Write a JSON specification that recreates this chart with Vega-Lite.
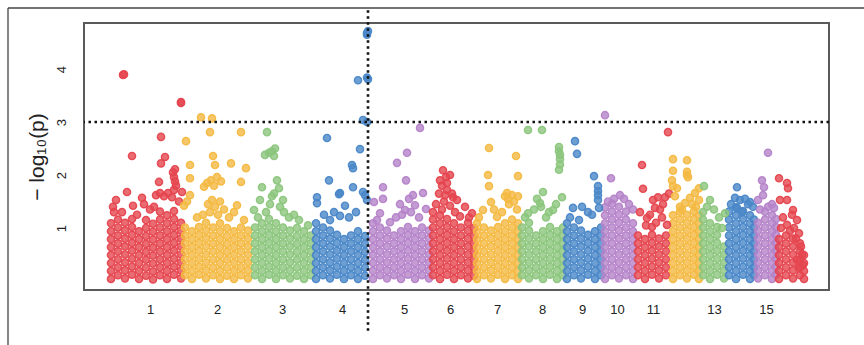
{
"$schema":"https://vega.github.io/schema/vega-lite/v6.json",
"width":745,"height":267,
"autosize":{"type":"none"},
"padding":{"left":84,"top":23,"right":35,"bottom":55},
"config":{"view":{"stroke":"#5a5a5a","strokeWidth":2},"font":"Liberation Sans"},
"datasets":{"snps":[
{"x":27,"y":0.04},{"x":27,"y":0.19},{"x":27,"y":0.34},{"x":27,"y":0.49},{"x":27,"y":0.64},{"x":27,"y":0.79},{"x":27,"y":0.94},{"x":27,"y":1.09},
{"x":34,"y":0.11},{"x":34,"y":0.26},{"x":34,"y":0.41},{"x":34,"y":0.56},{"x":34,"y":0.71},{"x":34,"y":0.86},{"x":34,"y":1.01},{"x":34,"y":1.16},
{"x":41,"y":0.05},{"x":41,"y":0.2},{"x":41,"y":0.35},{"x":41,"y":0.5},{"x":41,"y":0.65},{"x":41,"y":0.8},{"x":41,"y":0.95},{"x":41,"y":1.1},
{"x":48,"y":0.12},{"x":48,"y":0.27},{"x":48,"y":0.42},{"x":48,"y":0.57},{"x":48,"y":0.72},{"x":48,"y":0.87},{"x":48,"y":1.02},{"x":48,"y":1.17},
{"x":55,"y":0.04},{"x":55,"y":0.19},{"x":55,"y":0.34},{"x":55,"y":0.49},{"x":55,"y":0.64},{"x":55,"y":0.79},{"x":55,"y":0.94},
{"x":62,"y":0.1},{"x":62,"y":0.25},{"x":62,"y":0.4},{"x":62,"y":0.55},{"x":62,"y":0.7},{"x":62,"y":0.85},{"x":62,"y":1.0},{"x":62,"y":1.15},
{"x":69,"y":0.03},{"x":69,"y":0.18},{"x":69,"y":0.33},{"x":69,"y":0.48},{"x":69,"y":0.63},{"x":69,"y":0.78},{"x":69,"y":0.93},{"x":69,"y":1.08},
{"x":76,"y":0.11},{"x":76,"y":0.26},{"x":76,"y":0.41},{"x":76,"y":0.56},{"x":76,"y":0.71},{"x":76,"y":0.86},{"x":76,"y":1.01},{"x":76,"y":1.16},{"x":76,"y":1.31},
{"x":83,"y":0.04},{"x":83,"y":0.19},{"x":83,"y":0.34},{"x":83,"y":0.49},{"x":83,"y":0.64},{"x":83,"y":0.79},{"x":83,"y":0.94},{"x":83,"y":1.09},{"x":83,"y":1.24},
{"x":90,"y":0.12},{"x":90,"y":0.27},{"x":90,"y":0.42},{"x":90,"y":0.57},{"x":90,"y":0.72},{"x":90,"y":0.87},{"x":90,"y":1.02},{"x":90,"y":1.17},{"x":90,"y":1.32},
{"x":97,"y":0.05},{"x":97,"y":0.2},{"x":97,"y":0.35},{"x":97,"y":0.5},{"x":97,"y":0.65},{"x":97,"y":0.8},{"x":97,"y":0.95},{"x":97,"y":1.1},
{"x":101,"y":0.11},{"x":101,"y":0.26},{"x":101,"y":0.41},{"x":101,"y":0.56},{"x":101,"y":0.71},{"x":101,"y":0.86},{"x":101,"y":1.01},
{"x":108,"y":0.04},{"x":108,"y":0.19},{"x":108,"y":0.34},{"x":108,"y":0.49},{"x":108,"y":0.64},{"x":108,"y":0.79},{"x":108,"y":0.94},
{"x":115,"y":0.12},{"x":115,"y":0.27},{"x":115,"y":0.42},{"x":115,"y":0.57},{"x":115,"y":0.72},{"x":115,"y":0.87},{"x":115,"y":1.02},
{"x":122,"y":0.05},{"x":122,"y":0.2},{"x":122,"y":0.35},{"x":122,"y":0.5},{"x":122,"y":0.65},{"x":122,"y":0.8},{"x":122,"y":0.95},{"x":122,"y":1.1},
{"x":129,"y":0.11},{"x":129,"y":0.26},{"x":129,"y":0.41},{"x":129,"y":0.56},{"x":129,"y":0.71},{"x":129,"y":0.86},{"x":129,"y":1.01},
{"x":136,"y":0.04},{"x":136,"y":0.19},{"x":136,"y":0.34},{"x":136,"y":0.49},{"x":136,"y":0.64},{"x":136,"y":0.79},{"x":136,"y":0.94},{"x":136,"y":1.09},
{"x":143,"y":0.1},{"x":143,"y":0.25},{"x":143,"y":0.4},{"x":143,"y":0.55},{"x":143,"y":0.7},{"x":143,"y":0.85},{"x":143,"y":1.0},
{"x":150,"y":0.04},{"x":150,"y":0.19},{"x":150,"y":0.34},{"x":150,"y":0.49},{"x":150,"y":0.64},{"x":150,"y":0.79},{"x":150,"y":0.94},
{"x":157,"y":0.11},{"x":157,"y":0.26},{"x":157,"y":0.41},{"x":157,"y":0.56},{"x":157,"y":0.71},{"x":157,"y":0.86},{"x":157,"y":1.01},
{"x":164,"y":0.05},{"x":164,"y":0.2},{"x":164,"y":0.35},{"x":164,"y":0.5},{"x":164,"y":0.65},{"x":164,"y":0.8},{"x":164,"y":0.95},
{"x":171,"y":0.11},{"x":171,"y":0.26},{"x":171,"y":0.41},{"x":171,"y":0.56},{"x":171,"y":0.71},{"x":171,"y":0.86},{"x":171,"y":1.01},
{"x":178,"y":0.04},{"x":178,"y":0.19},{"x":178,"y":0.34},{"x":178,"y":0.49},{"x":178,"y":0.64},{"x":178,"y":0.79},{"x":178,"y":0.94},{"x":178,"y":1.09},
{"x":185,"y":0.12},{"x":185,"y":0.27},{"x":185,"y":0.42},{"x":185,"y":0.57},{"x":185,"y":0.72},{"x":185,"y":0.87},{"x":185,"y":1.02},{"x":185,"y":1.17},
{"x":192,"y":0.04},{"x":192,"y":0.19},{"x":192,"y":0.34},{"x":192,"y":0.49},{"x":192,"y":0.64},{"x":192,"y":0.79},{"x":192,"y":0.94},{"x":192,"y":1.09},
{"x":199,"y":0.11},{"x":199,"y":0.26},{"x":199,"y":0.41},{"x":199,"y":0.56},{"x":199,"y":0.71},{"x":199,"y":0.86},{"x":199,"y":1.01},
{"x":206,"y":0.05},{"x":206,"y":0.2},{"x":206,"y":0.35},{"x":206,"y":0.5},{"x":206,"y":0.65},{"x":206,"y":0.8},{"x":206,"y":0.95},
{"x":213,"y":0.1},{"x":213,"y":0.25},{"x":213,"y":0.4},{"x":213,"y":0.55},{"x":213,"y":0.7},{"x":213,"y":0.85},{"x":213,"y":1.0},
{"x":220,"y":0.04},{"x":220,"y":0.19},{"x":220,"y":0.34},{"x":220,"y":0.49},{"x":220,"y":0.64},{"x":220,"y":0.79},{"x":220,"y":0.94},
{"x":227,"y":0.11},{"x":227,"y":0.26},{"x":227,"y":0.41},{"x":227,"y":0.56},{"x":227,"y":0.71},{"x":227,"y":0.86},
{"x":232,"y":0.04},{"x":232,"y":0.19},{"x":232,"y":0.34},{"x":232,"y":0.49},{"x":232,"y":0.64},{"x":232,"y":0.79},{"x":232,"y":0.94},{"x":232,"y":1.09},
{"x":239,"y":0.11},{"x":239,"y":0.26},{"x":239,"y":0.41},{"x":239,"y":0.56},{"x":239,"y":0.71},{"x":239,"y":0.86},{"x":239,"y":1.01},
{"x":246,"y":0.05},{"x":246,"y":0.2},{"x":246,"y":0.35},{"x":246,"y":0.5},{"x":246,"y":0.65},{"x":246,"y":0.8},{"x":246,"y":0.95},
{"x":253,"y":0.12},{"x":253,"y":0.27},{"x":253,"y":0.42},{"x":253,"y":0.57},{"x":253,"y":0.72},{"x":253,"y":0.87},
{"x":260,"y":0.04},{"x":260,"y":0.19},{"x":260,"y":0.34},{"x":260,"y":0.49},{"x":260,"y":0.64},{"x":260,"y":0.79},
{"x":267,"y":0.11},{"x":267,"y":0.26},{"x":267,"y":0.41},{"x":267,"y":0.56},{"x":267,"y":0.71},{"x":267,"y":0.86},
{"x":274,"y":0.04},{"x":274,"y":0.19},{"x":274,"y":0.34},{"x":274,"y":0.49},{"x":274,"y":0.64},{"x":274,"y":0.79},{"x":274,"y":0.94},
{"x":281,"y":0.1},{"x":281,"y":0.25},{"x":281,"y":0.4},{"x":281,"y":0.55},{"x":281,"y":0.7},{"x":281,"y":0.85},
{"x":289,"y":0.04},{"x":289,"y":0.19},{"x":289,"y":0.34},{"x":289,"y":0.49},{"x":289,"y":0.64},{"x":289,"y":0.79},{"x":289,"y":0.94},{"x":289,"y":1.09},
{"x":296,"y":0.11},{"x":296,"y":0.26},{"x":296,"y":0.41},{"x":296,"y":0.56},{"x":296,"y":0.71},{"x":296,"y":0.86},{"x":296,"y":1.01},
{"x":303,"y":0.05},{"x":303,"y":0.2},{"x":303,"y":0.35},{"x":303,"y":0.5},{"x":303,"y":0.65},{"x":303,"y":0.8},{"x":303,"y":0.95},
{"x":310,"y":0.11},{"x":310,"y":0.26},{"x":310,"y":0.41},{"x":310,"y":0.56},{"x":310,"y":0.71},{"x":310,"y":0.86},
{"x":317,"y":0.04},{"x":317,"y":0.19},{"x":317,"y":0.34},{"x":317,"y":0.49},{"x":317,"y":0.64},{"x":317,"y":0.79},{"x":317,"y":0.94},
{"x":324,"y":0.12},{"x":324,"y":0.27},{"x":324,"y":0.42},{"x":324,"y":0.57},{"x":324,"y":0.72},{"x":324,"y":0.87},{"x":324,"y":1.02},
{"x":331,"y":0.04},{"x":331,"y":0.19},{"x":331,"y":0.34},{"x":331,"y":0.49},{"x":331,"y":0.64},{"x":331,"y":0.79},{"x":331,"y":0.94},
{"x":338,"y":0.11},{"x":338,"y":0.26},{"x":338,"y":0.41},{"x":338,"y":0.56},{"x":338,"y":0.71},{"x":338,"y":0.86},{"x":338,"y":1.01},
{"x":345,"y":0.05},{"x":345,"y":0.2},{"x":345,"y":0.35},{"x":345,"y":0.5},{"x":345,"y":0.65},{"x":345,"y":0.8},{"x":345,"y":0.95},
{"x":349,"y":0.11},{"x":349,"y":0.26},{"x":349,"y":0.41},{"x":349,"y":0.56},{"x":349,"y":0.71},{"x":349,"y":0.86},{"x":349,"y":1.01},{"x":349,"y":1.16},
{"x":356,"y":0.04},{"x":356,"y":0.19},{"x":356,"y":0.34},{"x":356,"y":0.49},{"x":356,"y":0.64},{"x":356,"y":0.79},{"x":356,"y":0.94},{"x":356,"y":1.09},{"x":356,"y":1.24},
{"x":363,"y":0.12},{"x":363,"y":0.27},{"x":363,"y":0.42},{"x":363,"y":0.57},{"x":363,"y":0.72},{"x":363,"y":0.87},{"x":363,"y":1.02},{"x":363,"y":1.17},
{"x":370,"y":0.04},{"x":370,"y":0.19},{"x":370,"y":0.34},{"x":370,"y":0.49},{"x":370,"y":0.64},{"x":370,"y":0.79},{"x":370,"y":0.94},{"x":370,"y":1.09},
{"x":377,"y":0.11},{"x":377,"y":0.26},{"x":377,"y":0.41},{"x":377,"y":0.56},{"x":377,"y":0.71},{"x":377,"y":0.86},{"x":377,"y":1.01},
{"x":384,"y":0.05},{"x":384,"y":0.2},{"x":384,"y":0.35},{"x":384,"y":0.5},{"x":384,"y":0.65},{"x":384,"y":0.8},{"x":384,"y":0.95},{"x":384,"y":1.1},
{"x":390,"y":0.1},{"x":390,"y":0.25},{"x":390,"y":0.4},{"x":390,"y":0.55},{"x":390,"y":0.7},{"x":390,"y":0.85},{"x":390,"y":1.0},
{"x":393,"y":0.04},{"x":393,"y":0.19},{"x":393,"y":0.34},{"x":393,"y":0.49},{"x":393,"y":0.64},{"x":393,"y":0.79},{"x":393,"y":0.94},{"x":393,"y":1.09},
{"x":400,"y":0.11},{"x":400,"y":0.26},{"x":400,"y":0.41},{"x":400,"y":0.56},{"x":400,"y":0.71},{"x":400,"y":0.86},{"x":400,"y":1.01},
{"x":407,"y":0.05},{"x":407,"y":0.2},{"x":407,"y":0.35},{"x":407,"y":0.5},{"x":407,"y":0.65},{"x":407,"y":0.8},{"x":407,"y":0.95},
{"x":414,"y":0.12},{"x":414,"y":0.27},{"x":414,"y":0.42},{"x":414,"y":0.57},{"x":414,"y":0.72},{"x":414,"y":0.87},{"x":414,"y":1.02},
{"x":421,"y":0.04},{"x":421,"y":0.19},{"x":421,"y":0.34},{"x":421,"y":0.49},{"x":421,"y":0.64},{"x":421,"y":0.79},{"x":421,"y":0.94},{"x":421,"y":1.09},
{"x":428,"y":0.11},{"x":428,"y":0.26},{"x":428,"y":0.41},{"x":428,"y":0.56},{"x":428,"y":0.71},{"x":428,"y":0.86},{"x":428,"y":1.01},{"x":428,"y":1.16},
{"x":434,"y":0.04},{"x":434,"y":0.19},{"x":434,"y":0.34},{"x":434,"y":0.49},{"x":434,"y":0.64},{"x":434,"y":0.79},{"x":434,"y":0.94},{"x":434,"y":1.09},
{"x":438,"y":0.11},{"x":438,"y":0.26},{"x":438,"y":0.41},{"x":438,"y":0.56},{"x":438,"y":0.71},{"x":438,"y":0.86},{"x":438,"y":1.01},
{"x":445,"y":0.05},{"x":445,"y":0.2},{"x":445,"y":0.35},{"x":445,"y":0.5},{"x":445,"y":0.65},{"x":445,"y":0.8},{"x":445,"y":0.95},{"x":445,"y":1.1},
{"x":452,"y":0.11},{"x":452,"y":0.26},{"x":452,"y":0.41},{"x":452,"y":0.56},{"x":452,"y":0.71},{"x":452,"y":0.86},
{"x":459,"y":0.04},{"x":459,"y":0.19},{"x":459,"y":0.34},{"x":459,"y":0.49},{"x":459,"y":0.64},{"x":459,"y":0.79},{"x":459,"y":0.94},
{"x":466,"y":0.12},{"x":466,"y":0.27},{"x":466,"y":0.42},{"x":466,"y":0.57},{"x":466,"y":0.72},{"x":466,"y":0.87},{"x":466,"y":1.02},
{"x":473,"y":0.04},{"x":473,"y":0.19},{"x":473,"y":0.34},{"x":473,"y":0.49},{"x":473,"y":0.64},{"x":473,"y":0.79},{"x":473,"y":0.94},
{"x":479,"y":0.11},{"x":479,"y":0.26},{"x":479,"y":0.41},{"x":479,"y":0.56},{"x":479,"y":0.71},{"x":479,"y":0.86},{"x":479,"y":1.01},
{"x":483,"y":0.04},{"x":483,"y":0.19},{"x":483,"y":0.34},{"x":483,"y":0.49},{"x":483,"y":0.64},{"x":483,"y":0.79},{"x":483,"y":0.94},{"x":483,"y":1.09},
{"x":490,"y":0.11},{"x":490,"y":0.26},{"x":490,"y":0.41},{"x":490,"y":0.56},{"x":490,"y":0.71},{"x":490,"y":0.86},{"x":490,"y":1.01},
{"x":497,"y":0.05},{"x":497,"y":0.2},{"x":497,"y":0.35},{"x":497,"y":0.5},{"x":497,"y":0.65},{"x":497,"y":0.8},{"x":497,"y":0.95},
{"x":504,"y":0.12},{"x":504,"y":0.27},{"x":504,"y":0.42},{"x":504,"y":0.57},{"x":504,"y":0.72},{"x":504,"y":0.87},
{"x":511,"y":0.04},{"x":511,"y":0.19},{"x":511,"y":0.34},{"x":511,"y":0.49},{"x":511,"y":0.64},{"x":511,"y":0.79},{"x":511,"y":0.94},
{"x":517,"y":0.11},{"x":517,"y":0.26},{"x":517,"y":0.41},{"x":517,"y":0.56},{"x":517,"y":0.71},{"x":517,"y":0.86},{"x":517,"y":1.01},
{"x":521,"y":0.04},{"x":521,"y":0.19},{"x":521,"y":0.34},{"x":521,"y":0.49},{"x":521,"y":0.64},{"x":521,"y":0.79},{"x":521,"y":0.94},{"x":521,"y":1.09},{"x":521,"y":1.24},{"x":521,"y":1.39},
{"x":528,"y":0.11},{"x":528,"y":0.26},{"x":528,"y":0.41},{"x":528,"y":0.56},{"x":528,"y":0.71},{"x":528,"y":0.86},{"x":528,"y":1.01},{"x":528,"y":1.16},{"x":528,"y":1.31},{"x":528,"y":1.46},
{"x":535,"y":0.05},{"x":535,"y":0.2},{"x":535,"y":0.35},{"x":535,"y":0.5},{"x":535,"y":0.65},{"x":535,"y":0.8},{"x":535,"y":0.95},{"x":535,"y":1.1},{"x":535,"y":1.25},{"x":535,"y":1.4},
{"x":542,"y":0.11},{"x":542,"y":0.26},{"x":542,"y":0.41},{"x":542,"y":0.56},{"x":542,"y":0.71},{"x":542,"y":0.86},{"x":542,"y":1.01},{"x":542,"y":1.16},{"x":542,"y":1.31},
{"x":549,"y":0.04},{"x":549,"y":0.19},{"x":549,"y":0.34},{"x":549,"y":0.49},{"x":549,"y":0.64},{"x":549,"y":0.79},{"x":549,"y":0.94},{"x":549,"y":1.09},
{"x":554,"y":0.11},{"x":554,"y":0.26},{"x":554,"y":0.41},{"x":554,"y":0.56},{"x":554,"y":0.71},{"x":554,"y":0.86},
{"x":561,"y":0.04},{"x":561,"y":0.19},{"x":561,"y":0.34},{"x":561,"y":0.49},{"x":561,"y":0.64},{"x":561,"y":0.79},
{"x":568,"y":0.12},{"x":568,"y":0.27},{"x":568,"y":0.42},{"x":568,"y":0.57},{"x":568,"y":0.72},{"x":568,"y":0.87},{"x":568,"y":1.02},
{"x":575,"y":0.05},{"x":575,"y":0.2},{"x":575,"y":0.35},{"x":575,"y":0.5},{"x":575,"y":0.65},{"x":575,"y":0.8},
{"x":582,"y":0.11},{"x":582,"y":0.26},{"x":582,"y":0.41},{"x":582,"y":0.56},{"x":582,"y":0.71},{"x":582,"y":0.86},
{"x":589,"y":0.04},{"x":589,"y":0.19},{"x":589,"y":0.34},{"x":589,"y":0.49},{"x":589,"y":0.64},{"x":589,"y":0.79},{"x":589,"y":0.94},{"x":589,"y":1.09},{"x":589,"y":1.24},
{"x":596,"y":0.11},{"x":596,"y":0.26},{"x":596,"y":0.41},{"x":596,"y":0.56},{"x":596,"y":0.71},{"x":596,"y":0.86},{"x":596,"y":1.01},{"x":596,"y":1.16},{"x":596,"y":1.31},
{"x":603,"y":0.05},{"x":603,"y":0.2},{"x":603,"y":0.35},{"x":603,"y":0.5},{"x":603,"y":0.65},{"x":603,"y":0.8},{"x":603,"y":0.95},{"x":603,"y":1.1},{"x":603,"y":1.25},
{"x":610,"y":0.12},{"x":610,"y":0.27},{"x":610,"y":0.42},{"x":610,"y":0.57},{"x":610,"y":0.72},{"x":610,"y":0.87},{"x":610,"y":1.02},{"x":610,"y":1.17},{"x":610,"y":1.32},
{"x":615,"y":0.04},{"x":615,"y":0.19},{"x":615,"y":0.34},{"x":615,"y":0.49},{"x":615,"y":0.64},{"x":615,"y":0.79},{"x":615,"y":0.94},{"x":615,"y":1.09},{"x":615,"y":1.24},
{"x":619,"y":0.11},{"x":619,"y":0.26},{"x":619,"y":0.41},{"x":619,"y":0.56},{"x":619,"y":0.71},{"x":619,"y":0.86},{"x":619,"y":1.01},{"x":619,"y":1.16},
{"x":626,"y":0.04},{"x":626,"y":0.19},{"x":626,"y":0.34},{"x":626,"y":0.49},{"x":626,"y":0.64},{"x":626,"y":0.79},{"x":626,"y":0.94},{"x":626,"y":1.09},
{"x":633,"y":0.12},{"x":633,"y":0.27},{"x":633,"y":0.42},{"x":633,"y":0.57},{"x":633,"y":0.72},{"x":633,"y":0.87},{"x":633,"y":1.02},
{"x":640,"y":0.05},{"x":640,"y":0.2},{"x":640,"y":0.35},{"x":640,"y":0.5},{"x":640,"y":0.65},
{"x":645,"y":0.11},{"x":645,"y":0.26},{"x":645,"y":0.41},{"x":645,"y":0.56},{"x":645,"y":0.71},{"x":645,"y":0.86},{"x":645,"y":1.01},{"x":645,"y":1.16},{"x":645,"y":1.31},
{"x":652,"y":0.04},{"x":652,"y":0.19},{"x":652,"y":0.34},{"x":652,"y":0.49},{"x":652,"y":0.64},{"x":652,"y":0.79},{"x":652,"y":0.94},{"x":652,"y":1.09},{"x":652,"y":1.24},{"x":652,"y":1.39},
{"x":659,"y":0.12},{"x":659,"y":0.27},{"x":659,"y":0.42},{"x":659,"y":0.57},{"x":659,"y":0.72},{"x":659,"y":0.87},{"x":659,"y":1.02},{"x":659,"y":1.17},{"x":659,"y":1.32},
{"x":666,"y":0.04},{"x":666,"y":0.19},{"x":666,"y":0.34},{"x":666,"y":0.49},{"x":666,"y":0.64},{"x":666,"y":0.79},{"x":666,"y":0.94},{"x":666,"y":1.09},{"x":666,"y":1.24},
{"x":670,"y":0.11},{"x":670,"y":0.26},{"x":670,"y":0.41},{"x":670,"y":0.56},{"x":670,"y":0.71},{"x":670,"y":0.86},{"x":670,"y":1.01},{"x":670,"y":1.16},
{"x":674,"y":0.05},{"x":674,"y":0.2},{"x":674,"y":0.35},{"x":674,"y":0.5},{"x":674,"y":0.65},{"x":674,"y":0.8},{"x":674,"y":0.95},{"x":674,"y":1.1},
{"x":681,"y":0.11},{"x":681,"y":0.26},{"x":681,"y":0.41},{"x":681,"y":0.56},{"x":681,"y":0.71},{"x":681,"y":0.86},{"x":681,"y":1.01},{"x":681,"y":1.16},{"x":681,"y":1.31},
{"x":688,"y":0.04},{"x":688,"y":0.19},{"x":688,"y":0.34},{"x":688,"y":0.49},{"x":688,"y":0.64},{"x":688,"y":0.79},{"x":688,"y":0.94},{"x":688,"y":1.09},{"x":688,"y":1.24},
{"x":692,"y":0.12},{"x":692,"y":0.27},{"x":692,"y":0.42},{"x":692,"y":0.57},{"x":692,"y":0.72},{"x":692,"y":0.87},{"x":692,"y":1.02},{"x":692,"y":1.17},
{"x":695,"y":0.04},{"x":695,"y":0.19},{"x":695,"y":0.34},{"x":695,"y":0.49},{"x":695,"y":0.64},{"x":695,"y":0.79},
{"x":702,"y":0.11},{"x":702,"y":0.26},{"x":702,"y":0.41},{"x":702,"y":0.56},{"x":702,"y":0.71},{"x":702,"y":0.86},
{"x":709,"y":0.05},{"x":709,"y":0.2},{"x":709,"y":0.35},{"x":709,"y":0.5},{"x":709,"y":0.65},{"x":709,"y":0.8},
{"x":716,"y":0.11},{"x":716,"y":0.26},{"x":716,"y":0.41},{"x":716,"y":0.56},{"x":716,"y":0.71},
{"x":720,"y":0.04},{"x":720,"y":0.19},{"x":720,"y":0.34},{"x":720,"y":0.49},
{"x":39,"y":3.89},{"x":40,"y":3.9},{"x":97,"y":3.38},{"x":97,"y":3.36},{"x":77,"y":2.72},{"x":48,"y":2.36},{"x":81,"y":2.34},{"x":77,"y":2.22},{"x":91,"y":2.11},{"x":89,"y":2.05},{"x":90,"y":1.96},{"x":91,"y":1.88},{"x":92,"y":1.8},{"x":90,"y":1.72},{"x":75,"y":1.87},{"x":43,"y":1.68},{"x":72,"y":1.62},{"x":76,"y":1.66},{"x":80,"y":1.6},{"x":58,"y":1.57},{"x":32,"y":1.53},{"x":98,"y":1.68},{"x":29,"y":1.4},{"x":30,"y":1.3},{"x":49,"y":1.42},{"x":60,"y":1.45},{"x":84,"y":1.66},{"x":88,"y":1.58},{"x":66,"y":1.35},{"x":38,"y":1.3},{"x":53,"y":1.25},{"x":95,"y":1.5},{"x":70,"y":1.4},
{"x":117,"y":3.09},{"x":128,"y":3.07},{"x":126,"y":2.81},{"x":157,"y":2.81},{"x":102,"y":2.64},{"x":106,"y":2.19},{"x":129,"y":2.36},{"x":131,"y":2.19},{"x":147,"y":2.22},{"x":162,"y":2.13},{"x":123,"y":1.85},{"x":127,"y":1.9},{"x":133,"y":1.96},{"x":137,"y":1.88},{"x":130,"y":1.8},{"x":120,"y":1.78},{"x":157,"y":1.87},{"x":106,"y":1.94},{"x":106,"y":1.62},{"x":103,"y":1.5},{"x":100,"y":1.42},{"x":124,"y":1.45},{"x":128,"y":1.53},{"x":131,"y":1.4},{"x":136,"y":1.5},{"x":140,"y":1.35},{"x":119,"y":1.25},{"x":145,"y":1.2},{"x":150,"y":1.3},{"x":153,"y":1.43},{"x":126,"y":1.3},{"x":134,"y":1.25},{"x":113,"y":1.2},{"x":160,"y":1.15},
{"x":183,"y":2.81},{"x":181,"y":2.38},{"x":185,"y":2.42},{"x":188,"y":2.45},{"x":191,"y":2.5},{"x":190,"y":2.36},{"x":178,"y":1.77},{"x":176,"y":1.53},{"x":193,"y":1.9},{"x":199,"y":1.53},{"x":195,"y":1.75},{"x":190,"y":1.65},{"x":186,"y":1.45},{"x":170,"y":1.34},{"x":200,"y":1.3},{"x":205,"y":1.2},{"x":210,"y":1.25},{"x":215,"y":1.15},{"x":182,"y":1.3},{"x":196,"y":1.4},{"x":188,"y":1.6},{"x":174,"y":1.2},{"x":224,"y":1.05},
{"x":283,"y":4.68},{"x":284,"y":4.72},{"x":283,"y":4.65},{"x":274,"y":3.79},{"x":284,"y":3.81},{"x":283,"y":3.84},{"x":279,"y":3.04},{"x":283,"y":3.0},{"x":243,"y":2.7},{"x":276,"y":2.49},{"x":268,"y":2.19},{"x":269,"y":2.13},{"x":245,"y":1.9},{"x":269,"y":1.77},{"x":256,"y":1.66},{"x":233,"y":1.58},{"x":233,"y":1.47},{"x":261,"y":1.42},{"x":256,"y":1.23},{"x":246,"y":1.15},{"x":279,"y":1.68},{"x":283,"y":1.53},{"x":281,"y":1.62},{"x":255,"y":1.64},{"x":240,"y":1.25},{"x":272,"y":1.3},{"x":250,"y":1.3},{"x":265,"y":1.2},
{"x":336,"y":2.89},{"x":323,"y":2.42},{"x":313,"y":2.23},{"x":322,"y":1.9},{"x":299,"y":1.77},{"x":299,"y":1.55},{"x":290,"y":1.49},{"x":329,"y":1.62},{"x":339,"y":1.66},{"x":321,"y":1.34},{"x":331,"y":1.43},{"x":342,"y":1.36},{"x":296,"y":1.28},{"x":306,"y":1.11},{"x":312,"y":1.2},{"x":318,"y":1.25},{"x":327,"y":1.3},{"x":335,"y":1.2},{"x":293,"y":1.15},{"x":325,"y":1.55},{"x":316,"y":1.45},
{"x":359,"y":2.09},{"x":366,"y":2.0},{"x":362,"y":1.96},{"x":356,"y":1.9},{"x":363,"y":1.85},{"x":358,"y":1.8},{"x":363,"y":1.72},{"x":369,"y":1.58},{"x":373,"y":1.53},{"x":381,"y":1.4},{"x":388,"y":1.28},{"x":355,"y":1.65},{"x":360,"y":1.5},{"x":366,"y":1.42},{"x":352,"y":1.45},{"x":371,"y":1.3},{"x":376,"y":1.22},{"x":349,"y":1.3},{"x":385,"y":1.2},{"x":358,"y":1.35},{"x":361,"y":1.62},{"x":368,"y":1.65},
{"x":405,"y":2.51},{"x":432,"y":2.36},{"x":404,"y":2.0},{"x":405,"y":1.79},{"x":434,"y":1.98},{"x":423,"y":1.66},{"x":428,"y":1.62},{"x":434,"y":1.6},{"x":421,"y":1.6},{"x":407,"y":1.49},{"x":399,"y":1.34},{"x":413,"y":1.21},{"x":430,"y":1.5},{"x":425,"y":1.45},{"x":418,"y":1.3},{"x":395,"y":1.2},{"x":410,"y":1.35},{"x":433,"y":1.35},{"x":424,"y":1.55},
{"x":444,"y":2.85},{"x":458,"y":2.85},{"x":475,"y":2.53},{"x":475,"y":2.45},{"x":476,"y":2.38},{"x":476,"y":2.3},{"x":476,"y":2.2},{"x":475,"y":2.1},{"x":459,"y":1.68},{"x":456,"y":1.47},{"x":444,"y":1.28},{"x":478,"y":1.58},{"x":469,"y":1.34},{"x":457,"y":1.4},{"x":465,"y":1.3},{"x":450,"y":1.35},{"x":441,"y":1.2},{"x":472,"y":1.45},{"x":462,"y":1.2},{"x":453,"y":1.55},
{"x":491,"y":2.64},{"x":493,"y":2.4},{"x":510,"y":1.98},{"x":514,"y":1.79},{"x":514,"y":1.7},{"x":514,"y":1.62},{"x":514,"y":1.53},{"x":515,"y":1.38},{"x":489,"y":1.38},{"x":498,"y":1.4},{"x":486,"y":1.2},{"x":504,"y":1.3},{"x":495,"y":1.15},{"x":508,"y":1.25},
{"x":521,"y":3.13},{"x":527,"y":1.94},{"x":536,"y":1.62},{"x":545,"y":1.45},{"x":530,"y":1.55},{"x":540,"y":1.55},{"x":524,"y":1.5},{"x":549,"y":1.35},
{"x":584,"y":2.81},{"x":558,"y":2.19},{"x":559,"y":1.74},{"x":569,"y":1.53},{"x":574,"y":1.58},{"x":581,"y":1.58},{"x":571,"y":1.38},{"x":576,"y":1.35},{"x":563,"y":1.19},{"x":583,"y":1.06},{"x":556,"y":1.3},{"x":566,"y":1.25},{"x":579,"y":1.45},{"x":585,"y":1.65},{"x":578,"y":1.2},{"x":562,"y":1.05},{"x":572,"y":1.1},
{"x":589,"y":2.3},{"x":603,"y":2.28},{"x":589,"y":2.08},{"x":603,"y":2.06},{"x":604,"y":1.96},{"x":603,"y":2.0},{"x":588,"y":1.9},{"x":589,"y":1.79},{"x":593,"y":1.75},{"x":596,"y":1.4},{"x":601,"y":1.47},{"x":606,"y":1.57},{"x":611,"y":1.66},{"x":615,"y":1.75},{"x":615,"y":1.53},{"x":591,"y":1.6},{"x":598,"y":1.35},{"x":608,"y":1.45},{"x":612,"y":1.4},
{"x":620,"y":1.79},{"x":626,"y":1.53},{"x":641,"y":1.28},{"x":623,"y":1.4},{"x":630,"y":1.35},{"x":635,"y":1.2},{"x":619,"y":1.3},{"x":638,"y":1.0},
{"x":653,"y":1.77},{"x":651,"y":1.57},{"x":656,"y":1.53},{"x":661,"y":1.55},{"x":666,"y":1.49},{"x":653,"y":1.38},{"x":647,"y":1.45},{"x":658,"y":1.3},{"x":669,"y":1.4},{"x":664,"y":1.45},
{"x":684,"y":2.42},{"x":678,"y":1.9},{"x":680,"y":1.77},{"x":679,"y":1.62},{"x":674,"y":1.53},{"x":684,"y":1.4},{"x":688,"y":1.45},{"x":676,"y":1.35},{"x":690,"y":1.38},
{"x":695,"y":1.94},{"x":703,"y":1.85},{"x":704,"y":1.75},{"x":696,"y":1.53},{"x":703,"y":1.53},{"x":709,"y":1.34},{"x":708,"y":1.25},{"x":713,"y":1.15},{"x":703,"y":1.06},{"x":710,"y":1.0},{"x":715,"y":0.9},{"x":715,"y":0.25},{"x":699,"y":1.2},{"x":712,"y":0.8},{"x":718,"y":0.5},{"x":697,"y":1.0},{"x":706,"y":0.95},{"x":717,"y":0.65},{"x":713,"y":0.4},{"x":719,"y":0.3}
]},
"layer":[
{"data":{"name":"snps"},
 "mark":{"type":"point","shape":"circle","filled":true,"size":52,"fillOpacity":0.8,"strokeOpacity":0.95,"strokeWidth":1.4},
 "encoding":{
  "x":{"field":"x","type":"quantitative","scale":{"domain":[0,745],"nice":false,"zero":false},
       "axis":{"values":[66,133,198,258,320,366,413,458,498,533,569,630,682],
               "labelExpr":"['1','2','3','4','5','6','7','8','9','10','11','13','15'][indexof([66,133,198,258,320,366,413,458,498,533,569,630,682], datum.value)]",
               "ticks":false,"domain":false,"grid":false,"title":null,"labelFontSize":13,"labelColor":"#222","labelPadding":13}},
  "y":{"field":"y","type":"quantitative","scale":{"domain":[-0.17,4.87],"nice":false,"zero":false},
       "axis":{"values":[1,2,3,4],"labelAngle":-90,"labelAlign":"center","labelBaseline":"bottom","ticks":false,"domain":false,"grid":false,
               "labelFontSize":13,"labelColor":"#222","labelPadding":16,
               "title":"− log₁₀(p)","titleFontSize":21,"titleFontWeight":"normal","titleColor":"#222","titlePadding":8}},
  "fill":{"field":"x","type":"quantitative","legend":null,
          "scale":{"type":"threshold","domain":[99,169,230,287,347,391,436,481,519,552,587,617,643,672,693],
                   "range":["#E5464F","#F4B942","#8CC67D","#4A87C8","#B583C9","#E5464F","#F4B942","#8CC67D","#4A87C8","#B583C9","#E5464F","#F4B942","#8CC67D","#4A87C8","#B583C9","#E5464F"]}},
  "stroke":{"field":"x","type":"quantitative","legend":null,
          "scale":{"type":"threshold","domain":[99,169,230,287,347,391,436,481,519,552,587,617,643,672,693],
                   "range":["#E5464F","#F4B942","#8CC67D","#4A87C8","#B583C9","#E5464F","#F4B942","#8CC67D","#4A87C8","#B583C9","#E5464F","#F4B942","#8CC67D","#4A87C8","#B583C9","#E5464F"]}}
 }},
{"data":{"values":[{}]},"mark":{"type":"rule","color":"#111","strokeWidth":2.6,"strokeDash":[2.5,3.5]},"encoding":{"y":{"datum":3}}},
{"data":{"values":[{}]},"mark":{"type":"rule","color":"#111","strokeWidth":2.6,"strokeDash":[2.5,3.5]},"encoding":{"x":{"datum":284},"y":{"datum":5.11},"y2":{"datum":-0.96}}},
{"data":{"values":[{}]},"mark":{"type":"rule","color":"#444","strokeWidth":1.3},"encoding":{"x":{"datum":-76},"x2":{"datum":790},"y":{"datum":5.153}}},
{"data":{"values":[{}]},"mark":{"type":"rule","color":"#444","strokeWidth":1.3},"encoding":{"x":{"datum":-76},"y":{"datum":5.153},"y2":{"datum":-1.3}}}
]
}
